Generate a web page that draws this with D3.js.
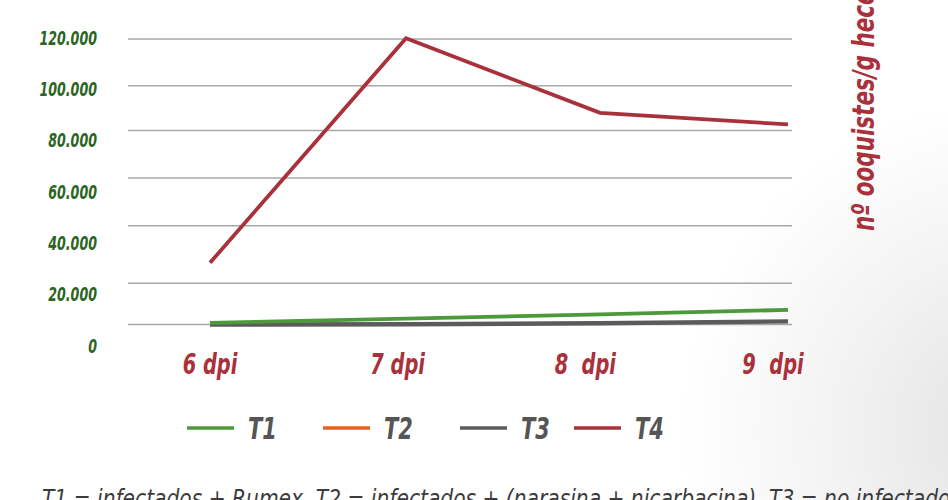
<!DOCTYPE html>
<html>
<head>
<meta charset="utf-8">
<script src="https://cdn.jsdelivr.net/npm/d3@7"></script>
<style>
  body { margin: 0; background: #fff; }
  svg { display: block; }
</style>
</head>
<body>
<div id="chart"></div>
<script>
// datos del gráfico
const dias = ["6 dpi", "7 dpi", "8  dpi", "9  dpi"];
const series = ["T1", "T2", "T3", "T4"];
const T1 = [800, 2900, 4900, 7100];
const T2 = [0, 100, 580, 1450];
const T3 = [0, 100, 600, 1500];
const T4 = [27100, 120300, 87900, 82700];
const yTicks = [0, 20000, 40000, 60000, 80000, 100000, 120000];
const colores = ["#4c9a3a", "#e8601c", "#5b5b5c", "#a9313b"];

drawChart();

function drawChart() {
    const width = 948;
    const height = 500;
    const font = "'Liberation Sans Narrow', 'DejaVu Sans Condensed', sans-serif";

    const svg = d3.select("#chart").append("svg")
        .attr("width", width)
        .attr("height", height);

    // sombra de la foto abajo a la derecha
    const grad = svg.append("defs").append("radialGradient")
        .attr("id", "sombra")
        .attr("gradientUnits", "userSpaceOnUse")
        .attr("cx", 1010).attr("cy", 430).attr("r", 330);
    grad.append("stop").attr("offset", "0%").attr("stop-color", "#e2e2e2");
    grad.append("stop").attr("offset", "55%").attr("stop-color", "#f3f3f3");
    grad.append("stop").attr("offset", "100%").attr("stop-color", "#ffffff");
    svg.append("rect").attr("width", width).attr("height", height).attr("fill", "url(#sombra)");

    // escalas (la imagen original está algo deformada, por eso tramos)
    const x = d3.scaleLinear().domain([0, 1, 2, 3]).range([210, 406, 600, 788]);
    const xLabel = d3.scalePoint().domain(dias).range([210, 773]);
    const y = d3.scaleLinear().domain(yTicks).range([324.5, 283.3, 225.7, 178, 130.5, 85.7, 39]);
    const yLabel = d3.scaleLinear().domain([0, 120000]).range([346, 38]);

    // la fuente condensada no existe: se estrecha a mano
    const narrow = (px, py, s) => `translate(${px},${py}) scale(${s},1)`;

    // líneas de rejilla
    svg.append("g").selectAll("line")
        .data(yTicks)
        .join("line")
        .attr("x1", 128).attr("x2", 792)
        .attr("y1", d => y(d)).attr("y2", d => y(d))
        .attr("stroke", "#a8a8a8")
        .attr("stroke-width", 1.6);

    // etiquetas eje y
    const fmt = d => d === 0 ? "0" : d3.format(",")(d).replace(/,/g, ".");
    svg.append("g").selectAll("text")
        .data(yTicks)
        .join("text")
        .attr("transform", d => narrow(97, yLabel(d), 0.74))
        .attr("dy", "0.35em")
        .attr("text-anchor", "end")
        .attr("font-family", font)
        .attr("font-weight", "bold")
        .attr("font-style", "italic")
        .attr("font-size", 19)
        .attr("fill", "#2b6524")
        .text(fmt);

    // etiquetas eje x
    svg.append("g").selectAll("text")
        .data(dias)
        .join("text")
        .attr("transform", d => narrow(xLabel(d), 374, 0.77))
        .attr("text-anchor", "middle")
        .attr("font-family", font)
        .attr("font-weight", "bold")
        .attr("font-style", "italic")
        .attr("font-size", 28)
        .attr("fill", "#a9313b")
        .style("white-space", "pre")
        .text(d => d);

    // series
    const valores = [T1, T2, T3, T4];
    const line = d3.line()
        .x((d, i) => x(i))
        .y(d => y(d));
    const orden = [1, 2, 0, 3];
    svg.append("g").selectAll("path")
        .data(orden)
        .join("path")
        .attr("d", k => line(valores[k]))
        .attr("fill", "none")
        .attr("stroke", k => colores[k])
        .attr("stroke-width", k => k === 2 ? 4.4 : (k === 1 ? 3 : 3.8))
        .attr("stroke-linejoin", "miter");

    // leyenda
    const legX = [187, 323, 460, 574];
    const leg = svg.append("g").selectAll("g")
        .data(series)
        .join("g")
        .attr("transform", (d, i) => `translate(${legX[i]},428)`);
    leg.append("line")
        .attr("x1", 0).attr("x2", 47)
        .attr("stroke", (d, i) => colores[i])
        .attr("stroke-width", 3.5);
    leg.append("text")
        .attr("transform", narrow(61, 11, 0.75))
        .attr("font-family", font)
        .attr("font-weight", "bold")
        .attr("font-style", "italic")
        .attr("font-size", 31)
        .attr("fill", "#555555")
        .text(d => d);

    // título eje derecho
    svg.append("text")
        .attr("transform", "translate(874,231) rotate(-90) scale(0.77,1)")
        .attr("font-family", font)
        .attr("font-weight", "bold")
        .attr("font-style", "italic")
        .attr("font-size", 31)
        .attr("fill", "#a9313b")
        .text("nº ooquistes/g heces");

    // nota al pie (cortada por abajo)
    svg.append("text")
        .attr("transform", narrow(42, 507, 0.9))
        .attr("font-family", font)
        .attr("font-style", "italic")
        .attr("font-size", 25)
        .attr("fill", "#3c3c3c")
        .text("T1 = infectados + Rumex, T2 = infectados + (narasina + nicarbacina), T3 = no infectados");
}
</script>
</body>
</html>
